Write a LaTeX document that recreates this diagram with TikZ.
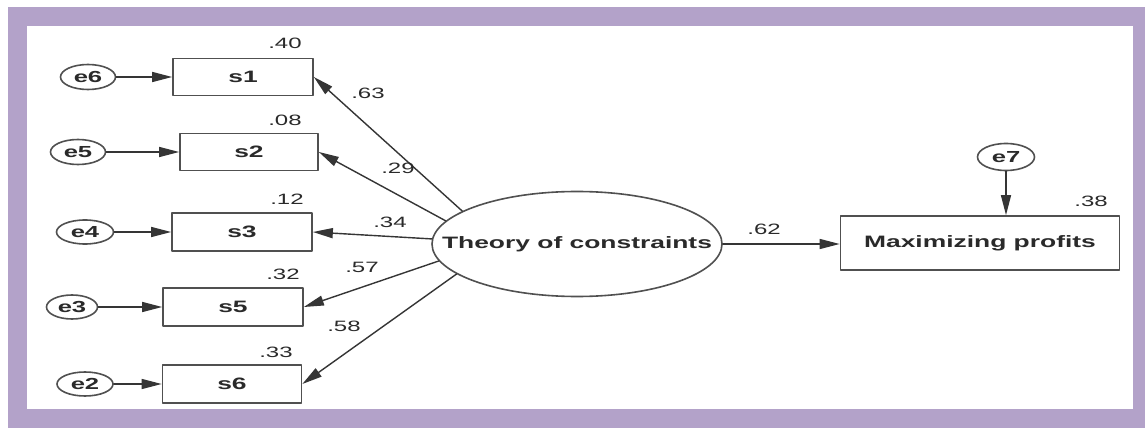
\documentclass[tikz,border=0pt]{standalone}
\usepackage{fontspec}
\newfontfamily\amosfont{Liberation Sans}[FakeStretch=1.6]
\usetikzlibrary{shapes.geometric,arrows.meta}

\definecolor{framepurple}{HTML}{B3A2C9}
\definecolor{boxgray}{HTML}{505050}
\definecolor{linegray}{HTML}{353535}
\definecolor{numgray}{HTML}{2A2A2A}

\tikzset{
  obsbox/.style={draw=boxgray, line width=1.7pt, fill=white, inner sep=0pt,
    text=numgray, font=\amosfont\bfseries\fontsize{16.5}{19}\selectfont},
  errnode/.style={ellipse, draw=boxgray, line width=1.6pt, fill=white, inner sep=0pt,
    minimum width=55pt, minimum height=25pt, text=numgray,
    font=\amosfont\bfseries\fontsize{16}{19}\selectfont},
  estlabel/.style={inner sep=0pt, text=numgray, font=\amosfont\fontsize{15}{17}\selectfont},
  regpath/.style={draw=linegray, line width=1.4pt, -{Triangle[length=20pt,width=10pt]}},
}

\begin{document}
\begin{tikzpicture}[x=1pt, y=-1pt, line cap=round, line join=round]

  %% ════ frame ════
  \fill[framepurple] (8,7) rectangle (1145,428);
  \fill[white] (27,26) rectangle (1133,409);

  %% ════ indicators (left) ════
  \node[obsbox, minimum width=140pt, minimum height=37pt] (s1) at (243,77) {s1};
  \node[obsbox, minimum width=138pt, minimum height=37pt] (s2) at (249,152) {s2};
  \node[obsbox, minimum width=140pt, minimum height=38pt] (s3) at (242,232) {s3};
  \node[obsbox, minimum width=140pt, minimum height=38pt] (s5) at (233,307) {s5};
  \node[obsbox, minimum width=139pt, minimum height=38pt] (s6) at (232,384) {s6};

  %% ════ error terms ════
  \node[errnode] (e6) at (88,77) {e6};
  \node[errnode] (e5) at (78,152) {e5};
  \node[errnode, minimum width=57pt, minimum height=24pt] (e4) at (85,232) {e4};
  \node[errnode, minimum width=51pt, minimum height=24pt] (e3) at (72,307) {e3};
  \node[errnode, minimum width=56pt, minimum height=24pt] (e2) at (85,384) {e2};
  \node[errnode, minimum width=57pt, minimum height=27pt] (e7) at (1006,157) {e7};

  %% ════ latent + outcome ════
  % text set apart, else the ellipse grows round it
  \node[ellipse, draw=boxgray, line width=1.6pt, inner sep=0pt,
        minimum width=290pt, minimum height=105pt] (toc) at (577,244) {};
  \node[inner sep=0pt, text=numgray,
        font=\amosfont\bfseries\fontsize{16.5}{20}\selectfont] (toclabel) at (toc.center) {Theory of constraints};
  \node[obsbox, minimum width=279pt, minimum height=54pt,
        font=\amosfont\bfseries\fontsize{16.5}{20}\selectfont] (mp) at (980,243) {Maximizing profits};

  %% ════ paths ════
  \foreach \e/\s in {e6/s1, e5/s2, e4/s3, e3/s5, e2/s6}
    \draw[regpath] (\e.east) -- (\e.east -| \s.west);
  \foreach \a/\s in {164/s1, 170/s2, 178/s3, 187/s5, 194/s6}
    \draw[regpath] (toc.\a) -- (\s.east);
  \draw[regpath] (toc.east) -- (toc.east -| mp.west);
  \draw[regpath] (e7.south) -- (e7.south |- mp.north);

  %% ════ estimates ════
  \node[estlabel] (r1) at (285,43) {.40};
  \node[estlabel] (r2) at (285,120) {.08};
  \node[estlabel] (r3) at (287,199) {.12};
  \node[estlabel] (r5) at (283,274) {.32};
  \node[estlabel] (r6) at (276,352) {.33};
  \node[estlabel] (l1) at (368,93) {.63};
  \node[estlabel] (l2) at (398,168) {.29};
  \node[estlabel] (l3) at (390,222) {.34};
  \node[estlabel] (l5) at (362,267) {.57};
  \node[estlabel] (l6) at (344,326) {.58};
  \node[estlabel] (b1) at (764,229) {.62};
  \node[estlabel] (rmp) at (1091,201) {.38};

  \pgfresetboundingbox
  \path[use as bounding box] (0,0) rectangle (1145,430);
\end{tikzpicture}
\end{document}
